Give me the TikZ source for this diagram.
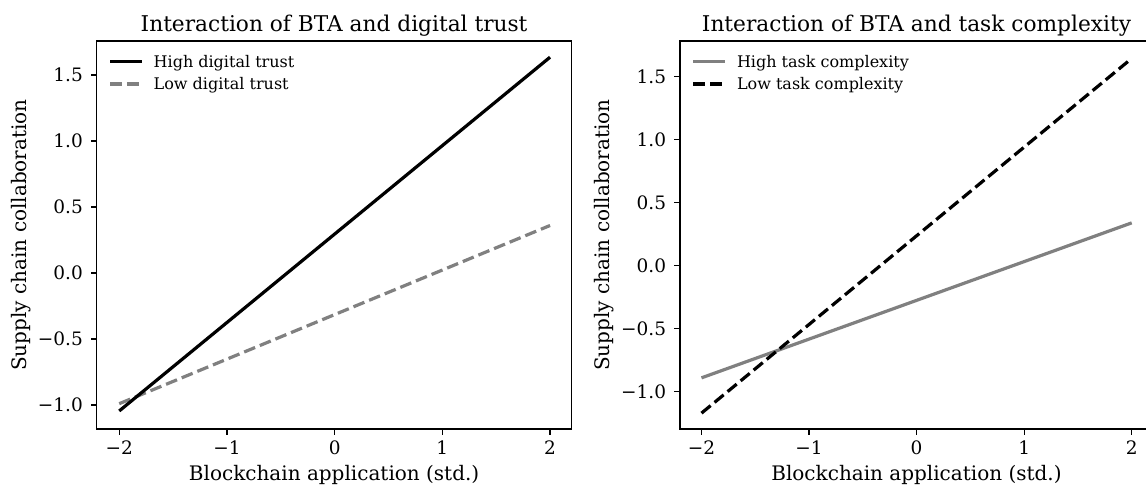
\documentclass[tikz,border=0pt]{standalone}
\usepackage{fontspec}
\setmainfont{DejaVu Serif}
\definecolor{mplgray}{HTML}{808080}
\begin{document}
\begin{tikzpicture}[x=1pt,y=-1pt,
  spine/.style={line width=1.3pt, line join=miter},
  tickmark/.style={line width=1.3pt},
  xticklab/.style={font=\fontsize{18.5}{22}\selectfont, inner sep=0pt, anchor=north},
  yticklab/.style={font=\fontsize{18.5}{22}\selectfont, inner sep=0pt, anchor=east},
  ttl/.style={font=\fontsize{21.7}{26}\selectfont, inner sep=0pt, anchor=base},
  axlab/.style={font=\fontsize{20}{24}\selectfont, inner sep=0pt, anchor=base},
  leg/.style={font=\fontsize{16}{19}\selectfont, inner sep=0pt, anchor=base west},
  solidln/.style={line width=3.2pt},
  dashln/.style={line width=3.2pt, dash pattern=on 11.8pt off 5.1pt}]
\useasboundingbox (0,0) rectangle (1146,488);
\fill[white] (0,0) rectangle (1146,488);

% ---------------- Left panel ----------------
\draw[spine] (96.7,41) rectangle (571.5,429);
\foreach \xp/\lab in {119.3/−2, 227.0/−1, 334.65/0, 442.3/1, 550.0/2}{
  \draw[tickmark] (\xp,429) -- (\xp,434.6);
  \node[xticklab] at (\xp,440.2) {\lab};
}
\foreach \yp/\lab in {75/1.5, 141/1.0, 207/0.5, 273/0.0, 339/−0.5, 405/−1.0}{
  \draw[tickmark] (96.7,\yp) -- (91.1,\yp);
  \node[yticklab] at (83,\yp) {\lab};
}
\node[ttl] (t1) at (334.1,31) {Interaction of BTA and digital trust};
\node[axlab] (xl1) at (334.1,480) {Blockchain application (std.)};
\node[axlab, rotate=90] (yl1) at (26,235) {Supply chain collaboration};

\begin{scope}[shift={(334.65,273)}, x=107.7pt, y=132pt]
  \coordinate (lh0) at (-2,-1.045);
  \coordinate (lh1) at (2,1.635);
  \coordinate (ll0) at (-2,-0.99);
  \coordinate (ll1) at (2,0.36);
  \draw[dashln, mplgray] (ll0) -- (ll1);
  \draw[solidln, black] (lh0) -- (lh1);
\end{scope}

% legend left
\coordinate (lg1a) at (110,61.7); \coordinate (lg1b) at (142,61.7);
\coordinate (lg2a) at (110,84); \coordinate (lg2b) at (142,84);
\draw[solidln, black] (lg1a) -- (lg1b);
\draw[dashln, mplgray] (lg2a) -- (lg2b);
\node[leg] (lt1) at (153.5,67.5) {High digital trust};
\node[leg] (lt2) at (153.5,89.8) {Low digital trust};

% ---------------- Right panel ----------------
\draw[spine] (1146,41) -- (680,41) -- (680,429) -- (1146,429);
\foreach \xp/\lab in {701.5/−2, 809.05/−1, 916.6/0, 1024.15/1, 1131.7/2}{
  \draw[tickmark] (\xp,429) -- (\xp,434.6);
  \node[xticklab] at (\xp,440.2) {\lab};
}
\foreach \yp/\lab in {76.7/1.5, 139.7/1.0, 202.7/0.5, 265.7/0.0, 328.7/−0.5, 391.7/−1.0}{
  \draw[tickmark] (680,\yp) -- (674.4,\yp);
  \node[yticklab] at (666.3,\yp) {\lab};
}
\node[ttl] (t2) at (916.5,31) {Interaction of BTA and task complexity};
\node[axlab] (xl2) at (916.5,480) {Blockchain application (std.)};
\node[axlab, rotate=90] (yl2) at (609,235) {Supply chain collaboration};

\begin{scope}[shift={(916.6,265.7)}, x=107.55pt, y=126pt]
  \coordinate (rh0) at (-2,-0.89);
  \coordinate (rh1) at (2,0.34);
  \coordinate (rl0) at (-2,-1.17);
  \coordinate (rl1) at (2,1.645);
  \draw[solidln, mplgray] (rh0) -- (rh1);
  \draw[dashln, black] (rl0) -- (rl1);
\end{scope}

% legend right
\coordinate (rg1a) at (693.3,61.7); \coordinate (rg1b) at (725.3,61.7);
\coordinate (rg2a) at (693.3,84); \coordinate (rg2b) at (725.3,84);
\draw[solidln, mplgray] (rg1a) -- (rg1b);
\draw[dashln, black] (rg2a) -- (rg2b);
\node[leg] (rt1) at (736.8,67.5) {High task complexity};
\node[leg] (rt2) at (736.8,89.8) {Low task complexity};
\end{tikzpicture}
\end{document}
